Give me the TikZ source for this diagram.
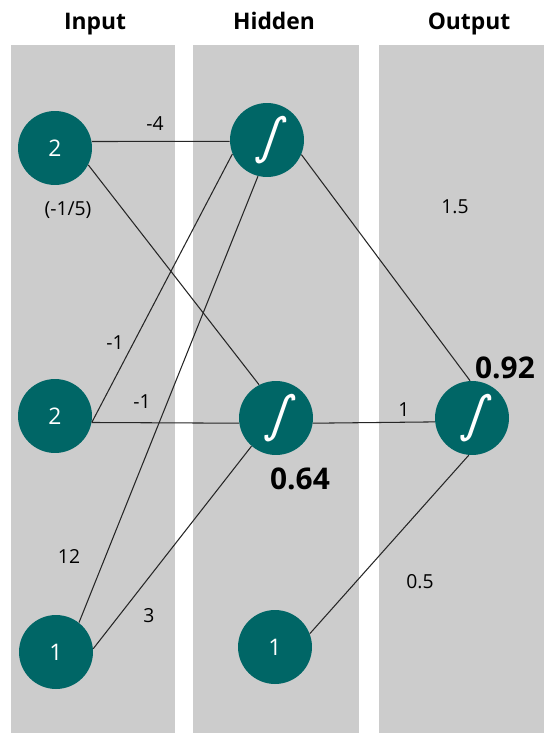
\documentclass[tikz,border=0pt]{standalone}
\usepackage{fontspec}
\setmainfont{Open Sans}
\newfontfamily\sigfont[FakeSlant=0.3]{DejaVu Sans}
\usepackage{tikz}
\usetikzlibrary{positioning}
\definecolor{teal}{RGB}{0,102,102}
\definecolor{panelgray}{RGB}{204,204,204}
\tikzset{
  panel/.style={fill=panelgray, draw=none},
  neuron/.style={circle, fill=teal, draw=none, minimum size=1.48cm, inner sep=0pt,
                 text=white, font=\fontsize{13}{15}\selectfont},
  sig/.style={neuron, font=\sigfont\fontsize{28}{30}\selectfont},
  conn/.style={draw=black!85, line width=0.6pt},
  wlab/.style={font=\fontsize{11}{13}\selectfont, inner sep=1pt},
  outlab/.style={font=\fontsize{17}{20}\selectfont\bfseries, inner sep=1pt},
  title/.style={font=\fontsize{13}{15}\selectfont\bfseries, anchor=base},
}

\begin{document}
\begin{tikzpicture}[x=0.02cm, y=-0.02cm]
\useasboundingbox (0,0) rectangle (544,736);

% layers
\fill[panel] (11,45) rectangle (175,733);
\fill[panel] (193,45) rectangle (359,733);
\fill[panel] (379,45) rectangle (544,733);

\node[title] (tin) at (95,30) {Input};
\node[title] (thid) at (274,30) {Hidden};
\node[title] (tout) at (469,30) {Output};

% neurons
\node[neuron] (in1) at (55,148) {2};
\node[neuron] (in2) at (55,416) {2};
\node[neuron] (in3) at (56,652) {1};
\node[sig] (h1) at (267,140) {∫};
\node[sig] (h2) at (276,418) {∫};
\node[neuron] (hb) at (275,647) {1};
\node[sig] (out) at (472,418) {∫};

% weights
\draw[conn] (in1.10) -- (h1.182);
\draw[conn] (in1.-27) -- (h2.117);
\draw[conn] (in2.-10) -- (h1.202);
\draw[conn] (in2.-10) -- (h2.188);
\draw[conn] (in3.52) -- (h1.256);
\draw[conn] (in3.5) -- (h2.229);
\draw[conn] (h1.-23) -- (out.93);
\draw[conn] (h2.-8) -- (out.186);
\draw[conn] (hb.21) -- (out.265);

\node[wlab] (w1) at (155,124) {-4};
\node[wlab] (w2) at (68,210) {(-1/5)};
\node[wlab] (w3) at (115,343) {-1};
\node[wlab] (w4) at (142,402) {-1};
\node[wlab] (w5) at (69,556) {12};
\node[wlab] (w6) at (149,616) {3};
\node[wlab] (w7) at (455,207) {1.5};
\node[wlab] (w8) at (404,410) {1};
\node[wlab] (w9) at (420,582) {0.5};

\node[outlab] (a1) at (300,479) {0.64};
\node[outlab] (a2) at (505,368) {0.92};

\end{tikzpicture}
\end{document}
